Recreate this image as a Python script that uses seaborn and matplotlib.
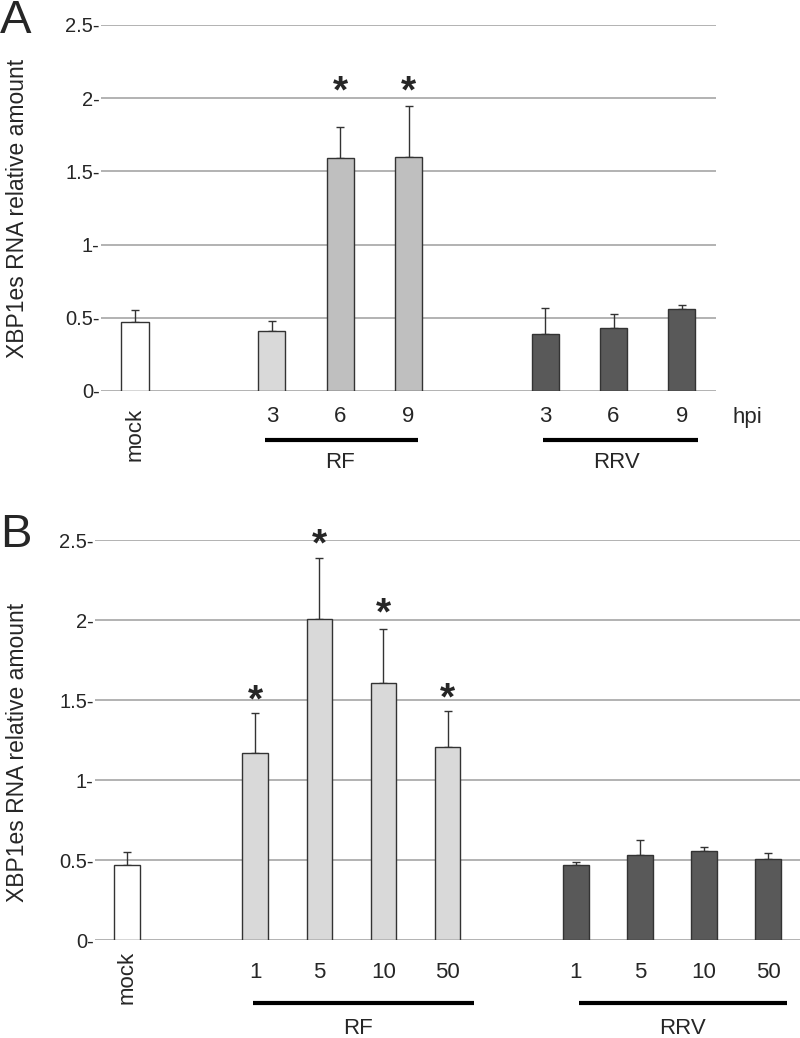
import matplotlib
matplotlib.use("Agg")
import matplotlib.pyplot as plt
import matplotlib.transforms as mtransforms
import seaborn as sns
import pandas as pd
import numpy as np

# panel A: time course (hpi)
a_labels = ["mock", "3", "6", "9", "3", "6", "9"]
a_pos = [0, 2, 3, 4, 6, 7, 8]
a_values = [0.47, 0.41, 1.59, 1.60, 0.39, 0.43, 0.56]
a_err = [0.08, 0.07, 0.21, 0.345, 0.175, 0.095, 0.025]
a_group = ["mock", "RF early", "RF", "RF", "RRV", "RRV", "RRV"]
a_star_pos = [3, 4]
a_star_y = [2.10, 2.10]

# panel B: dose (MOI)
b_labels = ["mock", "1", "5", "10", "50", "1", "5", "10", "50"]
b_pos = [0, 2, 3, 4, 5, 7, 8, 9, 10]
b_values = [0.47, 1.17, 2.005, 1.605, 1.205, 0.47, 0.53, 0.557, 0.507]
b_err = [0.08, 0.25, 0.385, 0.34, 0.225, 0.015, 0.094, 0.027, 0.037]
b_group = ["mock", "RF early", "RF early", "RF early", "RF early", "RRV", "RRV", "RRV", "RRV"]
b_star_pos = [2, 3, 4, 5]
b_star_y = [1.55, 2.52, 2.09, 1.56]

palette = {"mock": "#ffffff", "RF early": "#d9d9d9", "RF": "#bfbfbf", "RRV": "#595959"}

sns.set_style("white")
plt.rcParams["font.family"] = ["Liberation Sans", "DejaVu Sans"]

fig = plt.figure(figsize=(8, 10.38), dpi=100)
H = 1038.0
ax_a = fig.add_axes([101 / 800, 1 - 391 / H, 615 / 800, 366 / H])
ax_b = fig.add_axes([95 / 800, 1 - 940 / H, 705 / 800, 400 / H])


def offset(ax, dy_px):
    return ax.get_xaxis_transform() + mtransforms.ScaledTranslation(0, -dy_px / 100, fig.dpi_scale_trans)


def draw_panel(ax, pos, values, err, group, labels, xlim, lab_pad, mock_pad, stars_x, stars_y):
    df = pd.DataFrame({"pos": pos, "value": values, "group": group})
    sns.barplot(data=df, x="pos", y="value", hue="group", palette=palette,
                native_scale=True, dodge=False, width=0.4, edgecolor="#333333",
                linewidth=1.0, legend=False, ax=ax, zorder=3)
    ax.errorbar(pos, values, yerr=[np.zeros(len(err)), err], fmt="none",
                ecolor="#333333", elinewidth=1.0, capsize=3, capthick=1.0, zorder=2)
    ax.set_xlim(*xlim)
    ax.set_ylim(0, 2.5)
    ticks = [0, 0.5, 1, 1.5, 2, 2.5]
    ax.set_yticks(ticks, labels=["0-", "0.5-", "1-", "1.5-", "2-", "2.5-"])
    ax.yaxis.grid(True, color="#a6a6a6", linewidth=1.2)
    ax.set_axisbelow(True)
    for s in ax.spines.values():
        s.set_visible(False)
    ax.tick_params(axis="y", length=0, labelsize=14.5, pad=1)
    ax.set_xticks([])
    ax.set_xlabel("")
    ax.set_ylabel("XBP1es RNA relative amount", fontsize=16.5, va="center")
    for p, lab in zip(pos, labels):
        if lab == "mock":
            ax.text(p, 0, lab, transform=offset(ax, mock_pad), rotation=90,
                    ha="center", va="top", fontsize=16)
        else:
            ax.text(p, 0, lab, transform=offset(ax, lab_pad), ha="center",
                    va="center", fontsize=16)
    for sx, sy in zip(stars_x, stars_y):
        ax.annotate("*", xy=(sx, sy), xytext=(0, -19), textcoords="offset pixels",
                    ha="center", va="baseline", fontsize=28, fontweight="bold",
                    annotation_clip=False)


draw_panel(ax_a, a_pos, a_values, a_err, a_group, a_labels, (-0.5, 8.5), 26, 17,
           a_star_pos, a_star_y)
draw_panel(ax_b, b_pos, b_values, b_err, b_group, b_labels, (-0.5, 10.5), 33, 11,
           b_star_pos, b_star_y)

ax_a.yaxis.set_label_coords(-0.135, 0.5)
ax_b.yaxis.set_label_coords(-0.11, 0.47)

# group brackets under the bars
for x0, x1, name, xc in [(1.9, 4.14, "RF", 3.0), (5.97, 8.23, "RRV", 7.04)]:
    ax_a.plot([x0, x1], [0, 0], color="black", lw=3, transform=offset(ax_a, 49),
              clip_on=False, solid_capstyle="butt")
    ax_a.text(xc, 0, name, transform=offset(ax_a, 71), ha="center", va="center", fontsize=16)
ax_a.text(8.96, 0, "hpi", transform=offset(ax_a, 26), ha="center", va="center", fontsize=16)

for x0, x1, name, xc in [(1.97, 5.41, "RF", 3.6), (7.05, 10.3, "RRV", 8.67)]:
    ax_b.plot([x0, x1], [0, 0], color="black", lw=3, transform=offset(ax_b, 63),
              clip_on=False, solid_capstyle="butt")
    ax_b.text(xc, 0, name, transform=offset(ax_b, 88), ha="center", va="center", fontsize=16)

fig.text(0 / 800, 1 - 33 / H, "A", fontsize=34, va="baseline", ha="left")
fig.text(0 / 800, 1 - 547 / H, "B", fontsize=34, va="baseline", ha="left")

fig.savefig("out.png", dpi=100)
